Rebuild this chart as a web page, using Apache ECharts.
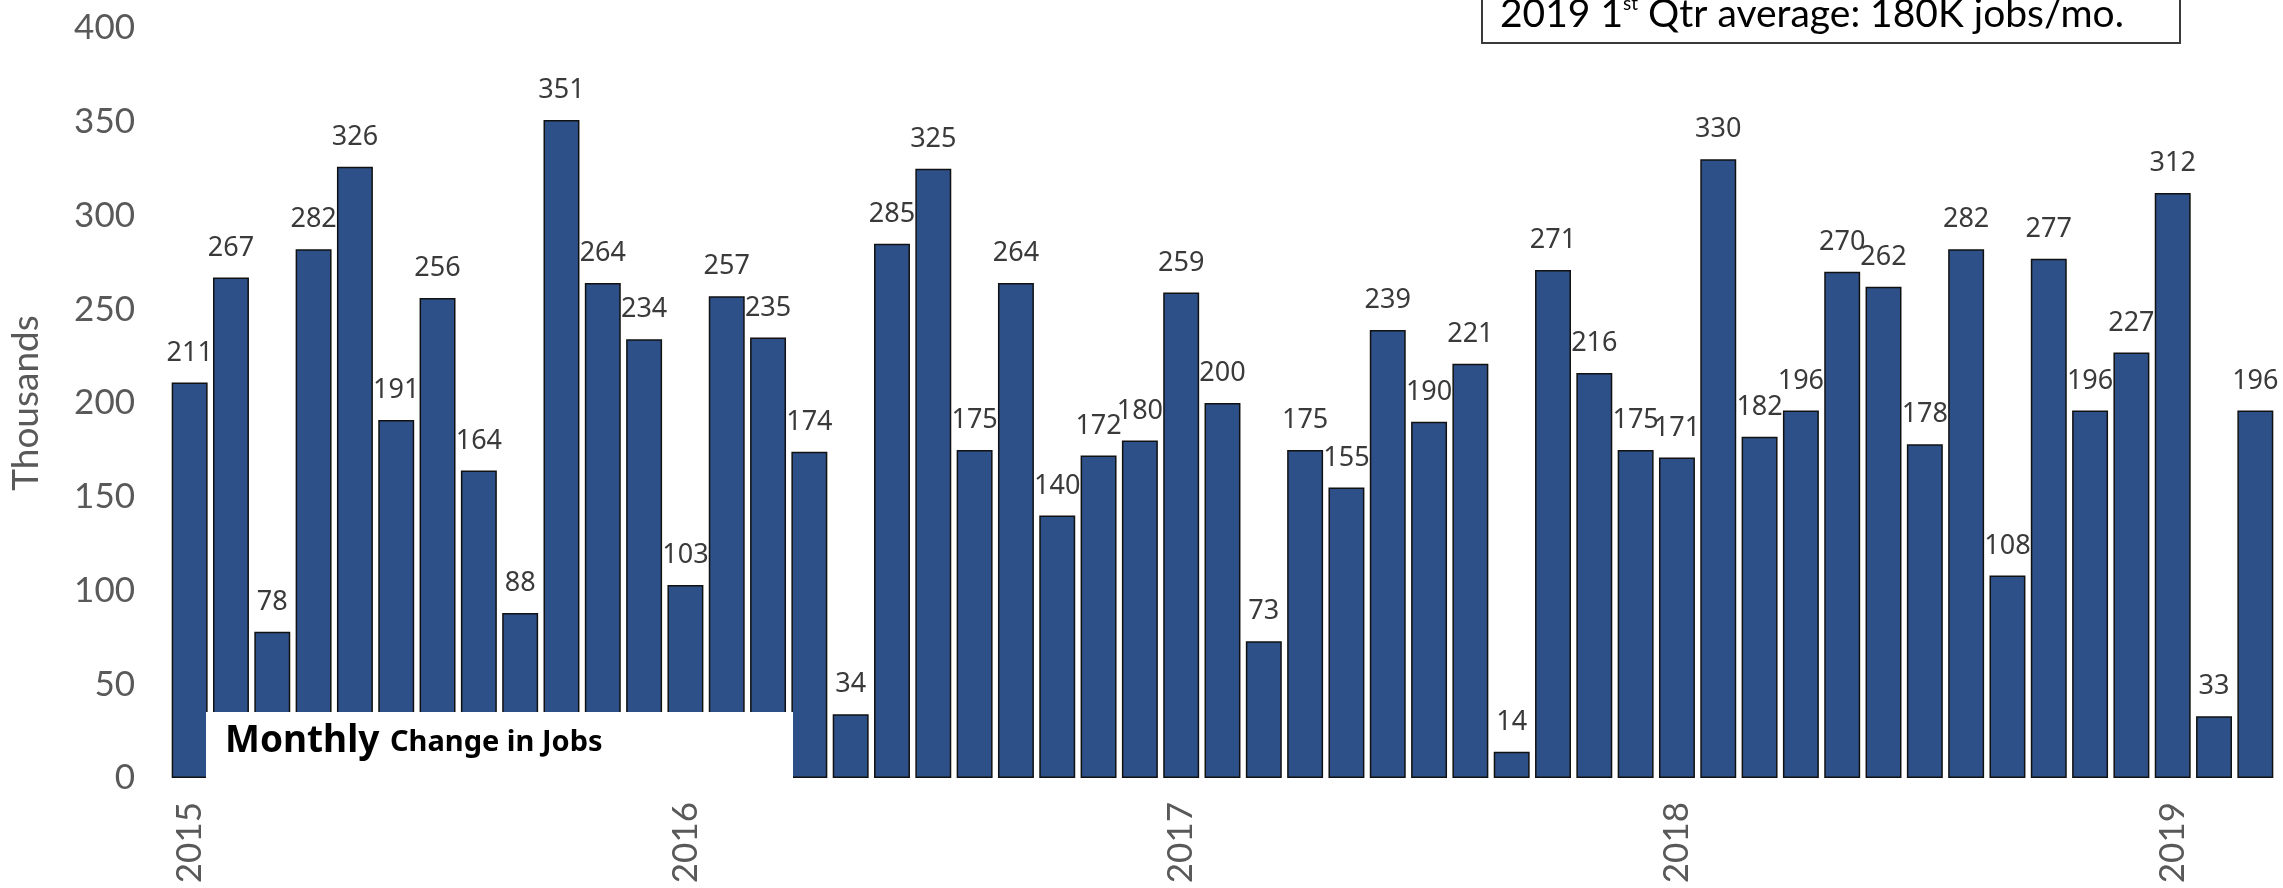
<!DOCTYPE html>
<html>
<head>
<meta charset="utf-8">
<script src="https://cdn.jsdelivr.net/npm/echarts@6/dist/echarts.min.js"></script>
<style>
html,body{margin:0;padding:0;background:#fff;}
#chart{width:2283px;height:888px;}
</style>
</head>
<body>
<div id="chart"></div>
<script>
// ---- data ----
const years = ['2015', '2016', '2017', '2018', '2019'];
const monthsPerYear = [12, 12, 12, 12, 3];
const jobChange = [
  211, 267, 78, 282, 326, 191, 256, 164, 88, 351, 264, 234,
  103, 257, 235, 174, 34, 285, 325, 175, 264, 140, 172, 180,
  259, 200, 73, 175, 155, 239, 190, 221, 14, 271, 216, 175,
  171, 330, 182, 196, 270, 262, 178, 282, 108, 277, 196, 227,
  312, 33, 196
];
const yTicks = [0, 50, 100, 150, 200, 250, 300, 350, 400];
const yAxisTitle = 'Thousands';
const boxTitleBold = 'Monthly';
const boxTitleRest = 'Change in Jobs';
const noteParts = ['2019 1', 'st', ' Qtr average: 180K jobs/mo.'];

// categories: one per month, labelled with the year in January
const categories = [];
years.forEach((y, i) => {
  for (let m = 1; m <= monthsPerYear[i]; m++) categories.push(y + '-' + String(m).padStart(2, '0'));
});

const chart = echarts.init(document.getElementById('chart'), null, {renderer: 'canvas'});
const option = {
  animation: false,
  backgroundColor: '#ffffff',
  grid: {left: 158, right: 7, top: 28, bottom: 110, containLabel: false},
  xAxis: {
    type: 'category',
    data: categories,
    axisLine: {show: false},
    axisTick: {show: false},
    axisLabel: {
      interval: 0,
      rotate: 90,
      margin: 24,
      fontFamily: 'Lato',
      fontSize: 35,
      color: '#595959',
      formatter: function (v) { return v.endsWith('-01') ? v.slice(0, 4) : ''; }
    },
    splitLine: {show: false}
  },
  yAxis: {
    type: 'value',
    min: yTicks[0],
    max: yTicks[yTicks.length - 1],
    interval: yTicks[1] - yTicks[0],
    name: yAxisTitle,
    nameLocation: 'middle',
    nameGap: 124,
    nameTextStyle: {fontFamily: 'Lato', fontSize: 37, color: '#595959'},
    axisLine: {show: false},
    axisTick: {show: false},
    splitLine: {show: false},
    axisLabel: {margin: 34, fontFamily: 'Lato', fontSize: 35, color: '#595959'}
  },
  series: [{
    type: 'bar',
    data: jobChange,
    barCategoryGap: '13%',
    itemStyle: {color: '#2E5088', borderColor: '#111111', borderWidth: 1.5},
    label: {
      show: true,
      position: 'top',
      distance: 16,
      fontFamily: 'Noto Sans',
      fontSize: 27,
      color: '#3a3a3a'
    }
  }],
  graphic: [
    {
      type: 'rect', z: 100,
      shape: {x: 206, y: 712, width: 587, height: 82},
      style: {fill: '#ffffff'}
    },
    {
      type: 'text', z: 101, x: 225, y: 741,
      style: {text: boxTitleBold, font: 'bold 37px "Noto Sans"', fill: '#000000', verticalAlign: 'middle', align: 'left'}
    },
    {
      type: 'text', z: 101, x: 390, y: 743,
      style: {text: boxTitleRest, font: 'bold 29px "Noto Sans"', fill: '#000000', verticalAlign: 'middle', align: 'left'}
    },
    {
      type: 'rect', z: 100,
      shape: {x: 1482, y: -20, width: 698, height: 63},
      style: {fill: '#ffffff', stroke: '#3a3a3a', lineWidth: 2}
    },
    {
      type: 'text', z: 101, x: 1500, y: 14,
      style: {
        text: '{n|' + noteParts[0] + '}{s|' + noteParts[1] + '}{n|' + noteParts[2] + '}',
        verticalAlign: 'middle', align: 'left',
        rich: {
          n: {fontFamily: 'Lato', fontSize: 39, color: '#262626', verticalAlign: 'bottom'},
          s: {fontFamily: 'Lato', fontSize: 19, color: '#262626', verticalAlign: 'top'}
        }
      }
    }
  ]
};
chart.setOption(option);
</script>
</body>
</html>
